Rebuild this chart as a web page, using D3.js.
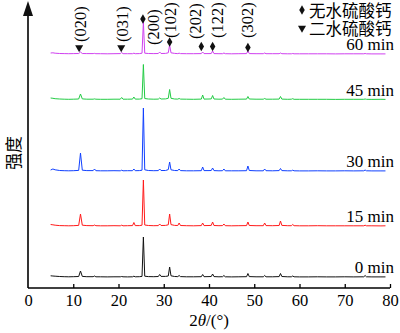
<!DOCTYPE html>
<html><head><meta charset="utf-8">
<script src="https://cdn.jsdelivr.net/npm/d3@7"></script>
<style>body{margin:0;background:#fff}svg{display:block}</style>
</head><body>
<script>
// ---- data ----
const twoTheta = [5,5.5,6,7,8,9,10,11.2,11.6,12.0,13,14.4,14.7,15.0,16,17.5,19,20.4,20.7,21.0,22,23.1,23.4,23.7,24.6,25.2,25.5,25.8,26.6,27.8,28.8,29.1,29.4,30.4,31.0,31.3,31.6,32.4,33.1,33.4,33.7,35,36.6,38.3,38.6,38.9,40.0,40.5,40.8,41.1,42.2,43.0,43.3,43.6,45,46.6,48.3,48.6,48.9,50.4,52.0,52.3,52.6,54,55.5,55.8,56.1,57.4,58.2,58.5,58.8,60,62,64,66,68,70,72,74.2,74.5,74.8,76,78,79];
const seriesNames = ["0 min","15 min","30 min","45 min","60 min"];
const min0  = [12,10,8,5,3,2,3,5,60,6,3,3,10,2,2,1,2,2,5,2,1,2,8,2,3,6,400,8,4,3,5,25,6,6,10,100,12,5,4,15,4,2,2,3,25,3,4,5,30,4,2,3,15,2,1,2,3,35,4,2,2,15,2,2,4,35,5,2,2,10,2,1,1,2,1,1,2,1,2,15,2,1,1,1];
const min15 = [15,12,8,4,3,2,3,6,120,8,4,3,10,3,2,2,3,2,8,2,3,4,35,4,4,8,460,10,5,3,4,20,5,6,12,120,14,6,5,30,5,3,2,4,30,4,5,6,40,5,3,4,20,3,2,3,4,40,5,3,3,30,4,3,5,50,6,3,3,15,3,2,2,3,2,2,2,2,2,8,2,2,1,2];
const min30 = [10,20,12,5,3,2,3,6,180,8,4,4,20,3,2,2,3,2,8,2,3,3,20,3,4,8,630,12,5,3,4,20,5,5,14,90,12,5,4,20,4,2,2,3,40,4,4,5,30,4,2,3,20,2,2,2,3,50,5,2,2,20,3,2,4,25,4,2,2,8,2,1,1,2,1,1,2,1,2,10,2,1,1,1];
const min45 = [15,12,8,5,3,2,3,5,55,6,3,3,6,3,2,2,3,3,20,3,3,4,25,4,4,8,350,10,5,3,4,15,5,6,12,100,12,5,4,10,4,3,2,4,45,4,5,6,40,5,3,4,20,3,2,3,4,30,5,3,3,10,3,3,4,30,4,2,3,8,2,2,2,2,2,1,2,2,2,5,2,1,2,1];
const min60 = [10,12,8,5,4,3,4,5,20,5,4,4,6,3,3,2,3,4,15,3,3,3,8,3,4,8,320,8,5,4,5,20,5,6,12,90,12,6,4,8,4,3,3,4,20,4,4,5,30,4,3,3,10,3,2,3,4,30,4,3,3,10,3,3,3,10,3,2,2,5,2,2,2,2,2,1,2,2,2,5,2,1,1,1];
const seriesValues = [min0, min15, min30, min45, min60];
const seriesOffsets = [110, 620, 1170, 1885, 2340];
const seriesColors = ["#111111","#ff1a1a","#1040ff","#22cc44","#d040f0"];
const xTicks = [0,10,20,30,40,50,60,70,80];

const hklLabels = ["(020)","(031)","(200)","(102)","(202)","(122)","(302)"];
const hklLabelPos = [11.6, 20.8, 27.7, 31.5, 37.0, 41.9, 48.5];
const hklLabelLevel = [2460, 2460, 2430, 2500, 2490, 2500, 2500];

const markerPos   = [11.3, 20.6, 25.4, 31.3, 38.3, 40.8, 48.6];
const markerType  = ["tri","tri","dia","dia","dia","dia","dia"];
const markerLevel = [2405, 2405, 2690, 2460, 2415, 2415, 2405];

const legendLabels = ["无水硫酸钙","二水硫酸钙"];
const legendTypes = ["dia","tri"];

// ---- drawing ----
const W = 400, H = 333;
const svg = d3.select("body").append("svg").attr("width", W).attr("height", H);
const x = d3.scaleLinear().domain([0, 80]).range([28, 390]);
const y = d3.scaleLinear().domain([0, 2870]).range([288, 1]);
const serif = "'Liberation Serif','Times New Roman',serif";
const cjk = "'Noto Sans CJK SC','Noto Sans CJK JP',sans-serif";

const line = d3.line().x(d => x(d[0])).y(d => y(d[1]));
seriesValues.forEach((vals, i) => {
  const pts = twoTheta.map((t, j) => [t, vals[j] + seriesOffsets[i]]);
  svg.append("path").attr("d", line(pts)).attr("fill", "none")
    .attr("stroke", seriesColors[i]).attr("stroke-width", 1).attr("stroke-linejoin", "round");
  svg.append("text").attr("x", 394).attr("y", y(seriesOffsets[i]) - 4)
    .attr("text-anchor", "end").attr("font-family", serif).attr("font-size", 17)
    .attr("fill", "#000").text(seriesNames[i]);
});

// axes
const xAxis = d3.axisBottom(x).tickValues(xTicks).tickSize(0).tickPadding(0).tickFormat(d3.format("d"));
const gx = svg.append("g").attr("transform", `translate(0,${y(0)})`).call(xAxis)
  .attr("font-family", serif).attr("font-size", 16.5);
gx.select(".domain").remove();
gx.selectAll("text").attr("font-family", serif).attr("font-size", 16.5).attr("fill", "#000").attr("dy", 18);
gx.selectAll(".tick").filter(d => d > 0).append("line")
  .attr("y1", 0).attr("y2", -4).attr("stroke", "#000").attr("stroke-width", 1.3);
svg.append("line").attr("x1", x(0)).attr("x2", x(80)).attr("y1", y(0)).attr("y2", y(0))
  .attr("stroke", "#000").attr("stroke-width", 1.6);
svg.append("line").attr("x1", x(0)).attr("x2", x(0)).attr("y1", y(0)).attr("y2", 12)
  .attr("stroke", "#000").attr("stroke-width", 1.6);
svg.append("path").attr("d", `M${x(0)},1 L${x(0)-5},16 L${x(0)+5},16 Z`).attr("fill", "#111");

// axis titles
const xt = svg.append("text").attr("x", 209).attr("y", 326).attr("text-anchor", "middle")
  .attr("font-family", serif).attr("font-size", 17).attr("fill", "#000");
xt.append("tspan").text("2");
xt.append("tspan").attr("font-style", "italic").text("θ");
xt.append("tspan").text("/(°)");
svg.append("text").attr("transform", "translate(12,153) rotate(-90)")
  .attr("text-anchor", "middle").attr("dominant-baseline", "central")
  .attr("font-family", cjk).attr("font-size", 17).attr("fill", "#000").text("强度");

// markers
const sym = {
  dia: d3.symbol().type(d3.symbolDiamond).size(26),
  tri: d3.symbol().type(d3.symbolTriangle).size(28)
};
function drawMarker(t, cx, cy) {
  return svg.append("path").attr("d", sym[t]()).attr("fill", "#111")
    .attr("transform", `translate(${cx},${cy})` + (t === "tri" ? " rotate(180)" : ""));
}
markerPos.forEach((p, i) => drawMarker(markerType[i], x(p), y(markerLevel[i])));

hklLabels.forEach((lab, i) => {
  svg.append("text").attr("transform", `translate(${x(hklLabelPos[i])},${y(hklLabelLevel[i])}) rotate(-90)`)
    .attr("text-anchor", "start").attr("dominant-baseline", "central")
    .attr("font-family", serif).attr("font-size", 16.5).attr("fill", "#000").text(lab);
});

// legend
legendLabels.forEach((lab, i) => {
  const cy = 10 + i * 18;
  drawMarker(legendTypes[i], 302, cy);
  svg.append("text").attr("x", 309).attr("y", cy).attr("dominant-baseline", "central")
    .attr("font-family", cjk).attr("font-size", 16.5).attr("fill", "#000").text(lab);
});
</script>
</body></html>
